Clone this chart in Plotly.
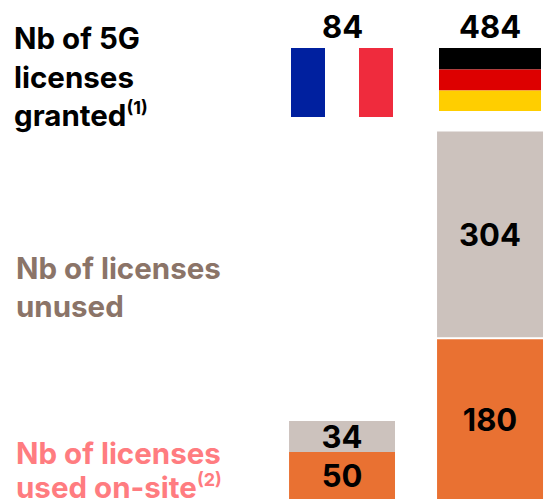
import plotly.graph_objects as go

countries = ["France", "Germany"]
granted = [84, 484]
used_labels = [50, 180]
unused_labels = [34, 304]
# Drawn lengths: the reference is not to scale with its labels
used_drawn = [50, 170]
unused_drawn = [33, 219]
unused_gap = [0, 2]

ORANGE = "#E97132"
TAUPE = "#CCC2BD"
FONT = "Inter"
W, H = 559, 504

fig = go.Figure()
for drawn, labels, base in [
    (used_drawn, used_labels, [0, 0]),
    (unused_drawn, unused_labels, [u + g for u, g in zip(used_drawn, unused_gap)]),
]:
    fig.add_bar(x=countries, y=drawn, base=base,
                marker=dict(color=ORANGE if labels is used_labels else TAUPE, line_width=0),
                text=[str(v) for v in labels], textposition="inside",
                insidetextanchor="middle", constraintext="none", textangle=0,
                textfont=dict(family=FONT, size=31, color="black", weight="bold"),
                width=0.716, hoverinfo="skip")


def px(x):
    return x / W


def py(y):
    return 1 - y / H


def rect(x0, y0, x1, y1, color):
    fig.add_shape(type="rect", xref="paper", yref="paper", x0=px(x0), x1=px(x1),
                  y0=py(y1), y1=py(y0), fillcolor=color, line_width=0, layer="above")


# France flag
rect(291, 48, 325, 117, "#00209F")
rect(325, 48, 359, 117, "#FFFFFF")
rect(359, 48, 393, 117, "#EF2B3D")
# Germany flag
rect(439, 48, 541, 69.5, "#000000")
rect(439, 69.5, 541, 90.5, "#DD0000")
rect(439, 90.5, 541, 111, "#FFCE00")


def note(x, y, text, color, size=29.5, anchor="left"):
    fig.add_annotation(xref="paper", yref="paper", x=px(x), y=py(y), text=text,
                       showarrow=False, xanchor=anchor, yanchor="middle", align="left",
                       borderpad=0, borderwidth=0,
                       font=dict(family=FONT, size=size, color=color, weight="bold"))


SUP = '<sup><span style="font-size:18px">{}</span></sup>'

note(342, 26, str(granted[0]), "black", size=31, anchor="center")
note(490, 26, str(granted[1]), "black", size=31, anchor="center")
note(14, 38, "Nb of 5G", "black")
note(14, 77, "licenses", "black")
note(14, 115, "granted" + SUP.format("(1)"), "black")
note(16, 268, "Nb of licenses", "#8B7468")
note(16, 306, "unused", "#8B7468")
note(16, 453, "Nb of licenses", "#FF7C80")
note(16, 487, "used on-site" + SUP.format("(2)"), "#FF7C80")

fig.update_layout(
    width=W, height=H, barmode="overlay", showlegend=False,
    margin=dict(l=0, r=0, t=0, b=0), paper_bgcolor="white", plot_bgcolor="white",
    xaxis=dict(type="category", range=[-2.311, 1.466], visible=False),
    yaxis=dict(range=[-5.3, 530.9], visible=False),
)
fig.write_html("out.html", config={"displayModeBar": False},
               post_script="document.body.style.margin='0';document.body.style.overflow='hidden';")
